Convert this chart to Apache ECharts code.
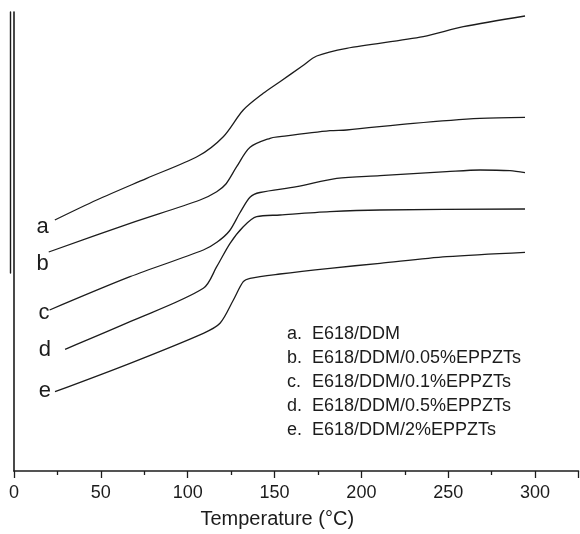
<!DOCTYPE html>
<html>
<head>
<meta charset="utf-8">
<script src="https://cdn.jsdelivr.net/npm/echarts@6/dist/echarts.min.js"></script>
<style>
  html, body { margin: 0; padding: 0; background: #fff; }
  #chart { width: 580px; height: 534px; }
</style>
</head>
<body>
<div id="chart"></div>
<script>
// DSC traces: [temperature (°C), heat flow (arbitrary offset units)]
const curveA = [[23.5,251],[47.6,271],[76.4,292.7],[106.1,315],[120.5,334.3],[132,361],[143.5,377.7],[153.1,389.3],[166,405],[174.3,415],[191.5,422.7],[235.6,434.3],[258.7,444.3],[294.2,455]];
const curveB = [[20,219],[66.8,247.7],[107.1,271],[116.7,279.3],[122,287],[128.2,304.3],[135.9,323.7],[147.4,332.7],[153.1,334.3],[181.9,340.3],[191.5,341],[229.9,347.7],[268.3,352.7],[294.2,353.7]];
const curveC = [[20.5,161],[66.8,194.3],[109,221],[117,229],[124,240],[130,258],[136,274],[141.6,278.5],[162.8,284.3],[185.8,292.7],[210.7,295.3],[249.1,299.3],[268.3,301],[285.6,300.3],[294.2,298.3]];
const curveD = [[29.4,121.7],[66.8,149.3],[109,182.7],[116.7,204.3],[124.4,227.7],[132,244.3],[139.7,254.3],[153.1,256],[181.9,259.3],[210.7,261],[294.2,262]];
const curveE = [[23.6,79.3],[66.8,107.7],[109,137.7],[118.6,147.7],[126.3,171],[132,189.3],[135.9,192.7],[153.1,197],[181.9,202.7],[210.7,207.7],[249.1,214.3],[294.2,218.7]];

const curveLetters = ['a', 'b', 'c', 'd', 'e'];
const sampleNames = ['E618/DDM', 'E618/DDM/0.05%EPPZTs', 'E618/DDM/0.1%EPPZTs', 'E618/DDM/0.5%EPPZTs', 'E618/DDM/2%EPPZTs'];
const curves = [curveA, curveB, curveC, curveD, curveE];

const xTicks = { min: 0, max: 325, interval: 50 };
const axisTitle = 'Temperature (°C)';

// nudges for the curve letters, relative to each trace's first point
const letterShift = [[-6, 7], [0, 12], [0, 3], [-14, 1], [-4, -1]];

const ink = '#1c1c1c';
const font = 'Liberation Sans, Arial, sans-serif';

const series = curves.map((pts, i) => ({
  name: sampleNames[i],
  type: 'line',
  xAxisIndex: 0,
  yAxisIndex: 0,
  showSymbol: true,
  symbol: 'circle',
  symbolSize: 0,
  smooth: 0.3,
  lineStyle: { color: ink, width: 1.3 },
  itemStyle: { color: ink },
  emphasis: { disabled: true },
  data: pts.map((p, j) => j === 0
    ? {
        value: p,
        label: {
          show: true, position: 'left', distance: 0, offset: letterShift[i],
          formatter: curveLetters[i], fontSize: 22, color: ink, fontFamily: font
        }
      }
    : p)
}));

const chart = echarts.init(document.getElementById('chart'), null, { renderer: 'canvas' });
chart.setOption({
  animation: false,
  backgroundColor: '#fff',
  grid: [
    { left: 14, right: 1.5, top: 12, bottom: 63 },
    { left: 10, top: 12, width: 10, height: 261 }
  ],
  xAxis: [
    {
      gridIndex: 0, type: 'value',
      min: xTicks.min, max: xTicks.max, interval: xTicks.interval,
      axisLine: { show: true, lineStyle: { color: ink, width: 1.6 } },
      axisTick: { show: true, inside: false, length: 7, lineStyle: { color: ink, width: 1.3 } },
      minorTick: { show: true, splitNumber: 2, length: 4, lineStyle: { color: ink, width: 1.3 } },
      axisLabel: { fontSize: 18, color: ink, margin: 13, fontFamily: font, showMaxLabel: false },
      splitLine: { show: false },
      name: axisTitle, nameLocation: 'middle', nameGap: 38,
      nameTextStyle: { fontSize: 20, color: ink, fontFamily: font, padding: [0, 38, 0, 0] }
    },
    { gridIndex: 1, type: 'value', show: false }
  ],
  yAxis: [
    {
      gridIndex: 0, type: 'value', min: 0, max: 459,
      axisLine: { show: true, lineStyle: { color: ink, width: 1.6 } },
      axisTick: { show: false }, axisLabel: { show: false }, splitLine: { show: false }
    },
    {
      gridIndex: 1, type: 'value', min: 0, max: 1,
      axisLine: { show: true, lineStyle: { color: ink, width: 1.4 } },
      axisTick: { show: false }, axisLabel: { show: false }, splitLine: { show: false }
    }
  ],
  legend: {
    orient: 'vertical', left: 277, top: 320,
    icon: 'none', itemWidth: 0, itemHeight: 0, itemGap: 6,
    selectedMode: false,
    data: sampleNames,
    formatter: name => '{l|' + curveLetters[sampleNames.indexOf(name)] + '.}{n|' + name + '}',
    textStyle: {
      color: ink, fontSize: 18, fontFamily: font,
      rich: {
        l: { width: 25, fontSize: 18, lineHeight: 20, color: ink, fontFamily: font },
        n: { fontSize: 18, lineHeight: 20, color: ink, fontFamily: font }
      }
    }
  },
  series
});
</script>
</body>
</html>
